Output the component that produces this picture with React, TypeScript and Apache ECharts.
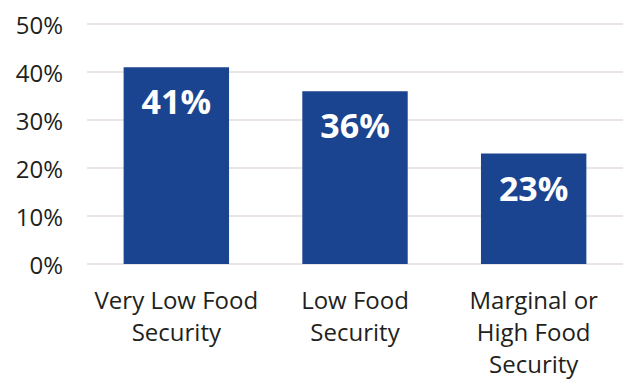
import React, { useEffect, useRef } from "react";
import * as echarts from "echarts";

const categories = ["Very Low Food\nSecurity", "Low Food\nSecurity", "Marginal or\nHigh Food\nSecurity"];
const values = [41, 36, 23];
const yTicks = [0, 10, 20, 30, 40, 50];

export default function App() {
  const ref = useRef<HTMLDivElement>(null);
  useEffect(() => {
    const chart = echarts.init(ref.current!, null, { renderer: "svg" });
    chart.setOption({
      animation: false,
      backgroundColor: "#ffffff",
      textStyle: { fontFamily: "Open Sans" },
      grid: { left: 87, right: 1, top: 24, bottom: 110, containLabel: false },
      xAxis: {
        type: "category",
        data: categories,
        axisLine: { show: false },
        axisTick: { show: false },
        axisLabel: {
          color: "#231f20",
          fontSize: 24,
          lineHeight: 32,
          margin: 19,
          fontFamily: "Open Sans",
          verticalAlign: "top",
          interval: 0,
        },
      },
      yAxis: {
        type: "value",
        min: yTicks[0],
        max: yTicks[yTicks.length - 1],
        interval: 10,
        axisLine: { show: false },
        axisTick: { show: false },
        splitLine: { lineStyle: { color: "#e3ddd8", width: 1.5 } },
        axisLabel: {
          formatter: "{value}%",
          color: "#231f20",
          fontSize: 24,
          margin: 24,
          fontFamily: "Open Sans",
        },
      },
      series: [
        {
          type: "bar",
          data: values,
          barWidth: "59%",
          itemStyle: { color: "#1b4490" },
          label: {
            show: true,
            position: "insideTop",
            distance: 17,
            formatter: "{c}%",
            color: "#ffffff",
            fontSize: 34,
            fontWeight: "bold",
            fontFamily: "Open Sans",
          },
        },
      ],
    });
    return () => chart.dispose();
  }, []);
  return <div ref={ref} style={{ width: 624, height: 379, position: "absolute", left: 0, top: 0 }} />;
}
